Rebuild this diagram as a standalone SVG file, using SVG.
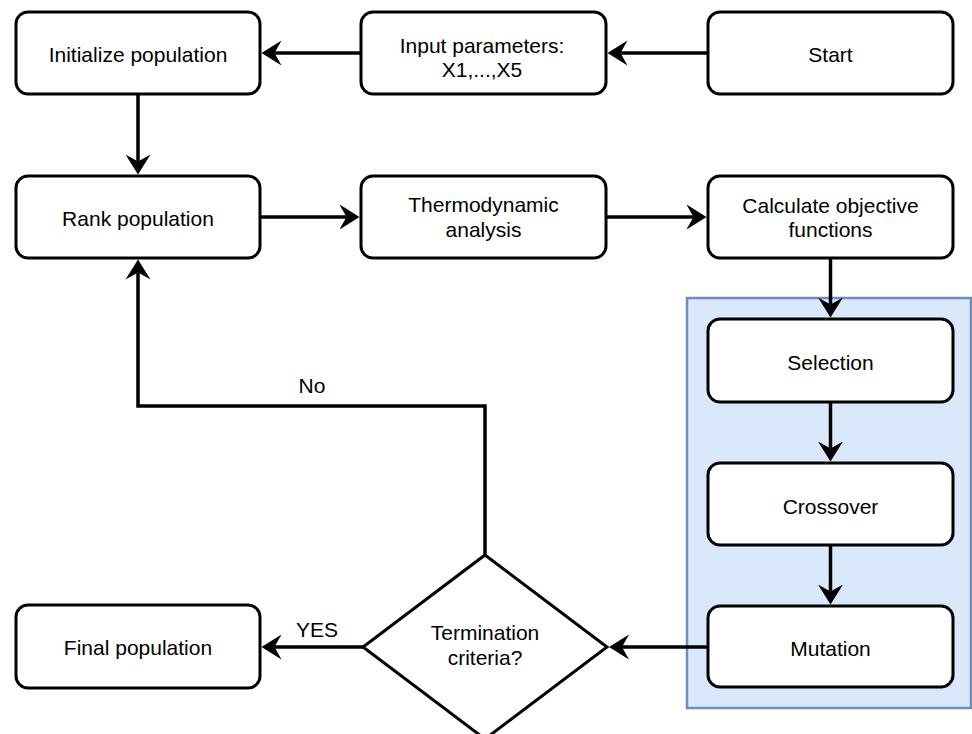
<svg xmlns="http://www.w3.org/2000/svg" width="972" height="734" viewBox="0 0 972 734">
<style>
.box{fill:#ffffff;stroke:#000000;stroke-width:3}
.dia{fill:#ffffff;stroke:#000000;stroke-width:3;stroke-linejoin:miter}
.t{font-family:"Liberation Sans",Arial,Helvetica,sans-serif;font-size:21px;fill:#000000;text-anchor:middle}
.c{fill:none;stroke:#000000;stroke-width:3.5}
</style>
<defs>
<marker id="arr" viewBox="0 -13 21 26" markerWidth="21" markerHeight="26" refX="7" refY="0" orient="auto" markerUnits="userSpaceOnUse">
<path d="M20,0 L0,-12.5 L7,0 L0,12.5 Z" fill="#000000"/>
</marker>
</defs>
<rect id="ga-container" x="687" y="298" width="284" height="410" fill="#dae8fc" stroke="#6c8ebf" stroke-width="2.5"/>
<g id="connectors">
<path class="c" d="M708,53 H620.5" marker-end="url(#arr)"/>
<path class="c" d="M361,53 H274.5" marker-end="url(#arr)"/>
<path class="c" d="M138,94 V161.5" marker-end="url(#arr)"/>
<path class="c" d="M260,217 H346.5" marker-end="url(#arr)"/>
<path class="c" d="M606,217 H693.5" marker-end="url(#arr)"/>
<path class="c" d="M830.5,258 V304.5" marker-end="url(#arr)"/>
<path class="c" d="M830.5,402 V448.5" marker-end="url(#arr)"/>
<path class="c" d="M830.5,545 V591.5" marker-end="url(#arr)"/>
<path class="c" d="M708,647 H622" marker-end="url(#arr)"/>
<path class="c" d="M363,647 H274.5" marker-end="url(#arr)"/>
<path class="c" d="M485,555 V406 H138 V272.5" marker-end="url(#arr)"/>
<text class="t" x="317" y="637">YES</text>
<text class="t" x="312" y="393">No</text>
</g>
<g id="start">
<rect class="box" x="708" y="12" width="245" height="82" rx="12"/>
<text class="t" x="830.5" y="62">Start</text>
</g>
<g id="input">
<rect class="box" x="361" y="12" width="245" height="82" rx="12"/>
<text class="t" x="482" y="53">Input parameters:</text>
<text class="t" x="482" y="77">X1,...,X5</text>
</g>
<g id="init">
<rect class="box" x="16" y="12" width="244" height="82" rx="12"/>
<text class="t" x="138" y="62">Initialize population</text>
</g>
<g id="rank">
<rect class="box" x="16" y="176" width="244" height="82" rx="12"/>
<text class="t" x="138" y="226">Rank population</text>
</g>
<g id="thermo">
<rect class="box" x="361" y="176" width="245" height="82" rx="12"/>
<text class="t" x="483.5" y="212">Thermodynamic</text>
<text class="t" x="483.5" y="237">analysis</text>
</g>
<g id="calc">
<rect class="box" x="708" y="176" width="245" height="82" rx="12"/>
<text class="t" x="830.5" y="213">Calculate objective</text>
<text class="t" x="830.5" y="237">functions</text>
</g>
<g id="selection">
<rect class="box" x="708" y="319" width="245" height="83" rx="12"/>
<text class="t" x="830.5" y="370">Selection</text>
</g>
<g id="crossover">
<rect class="box" x="708" y="463" width="245" height="82" rx="12"/>
<text class="t" x="830.5" y="514">Crossover</text>
</g>
<g id="mutation">
<rect class="box" x="708" y="606" width="245" height="81" rx="12"/>
<text class="t" x="830.5" y="656">Mutation</text>
</g>
<g id="termination">
<polygon class="dia" points="485,555 607,647 485,739 363,647"/>
<text class="t" x="485" y="640">Termination</text>
<text class="t" x="485" y="665">criteria?</text>
</g>
<g id="final">
<rect class="box" x="16" y="605" width="244" height="83" rx="12"/>
<text class="t" x="138" y="655">Final population</text>
</g>
</svg>
